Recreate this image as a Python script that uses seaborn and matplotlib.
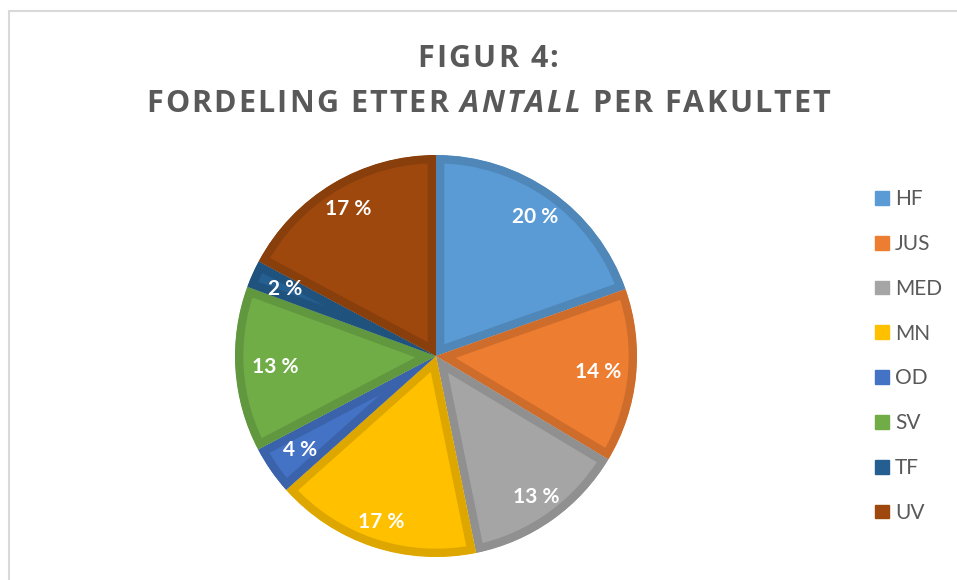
import matplotlib
matplotlib.use("Agg")
import numpy as np
import matplotlib.pyplot as plt
from matplotlib.patches import Patch, Rectangle
from matplotlib.font_manager import FontProperties, findfont, get_font
import seaborn as sns

# ==========================================
# DATA
# ==========================================
faculties = ["HF", "JUS", "MED", "MN", "OD", "SV", "TF", "UV"]
shares = [19.6, 14.0, 13.2, 16.6, 3.9, 13.3, 2.2, 17.2]
colors = ["#5B9BD5", "#ED7D31", "#A5A5A5", "#FFC000",
          "#4472C4", "#70AD47", "#255E91", "#9E480E"]
title_line1 = [("FIGUR 4:", "normal")]
title_line2 = [("FORDELING ETTER ", "normal"), ("ANTALL", "italic"), (" PER FAKULTET", "normal")]

sns.set_theme(style="white")
plt.rcParams["font.family"] = ["Lato", "DejaVu Sans"]
palette = sns.color_palette(colors)
edge_colors = [tuple(c * 0.87 for c in col) for col in palette]

W, H = 957, 580
fig = plt.figure(figsize=(W / 100, H / 100), dpi=100)
fig.patch.set_facecolor("white")

# light grey chart frame (Excel style)
fig.add_artist(Rectangle((9 / W, -0.05), 1.1, (H - 11) / H + 0.05,
                         transform=fig.transFigure, fill=False,
                         edgecolor="#D9D9D9", linewidth=1.5))

# ==========================================
# PIE
# ==========================================
R = 201
cx, cy = 436, 356
ax = fig.add_axes([(cx - R) / W, (H - cy - R) / H, 2 * R / W, 2 * R / H])
wedges, _, autotexts = ax.pie(
    shares, colors=palette, startangle=90, counterclock=False,
    autopct=lambda p: f"{p:.0f} %", pctdistance=0.83,
    wedgeprops=dict(linewidth=12, joinstyle="round"),
    textprops=dict(color="white", fontsize=15, fontweight="bold"),
)
# radial label distances, roughly like Excel's "best fit"
label_r = [0.85, 0.81, 0.86, 0.87, 0.82, 0.80, 0.82, 0.85]
for w, ec, t, r in zip(wedges, edge_colors, autotexts, label_r):
    w.set_edgecolor(ec)
    w.set_clip_on(True)
    w.set_clip_path(w)  # keep the stroke on the inside of each slice
    mid = np.deg2rad((w.theta1 + w.theta2) / 2)
    t.set_position((r * np.cos(mid), r * np.sin(mid)))
ax.set_xlim(-1, 1)
ax.set_ylim(-1, 1)
ax.set_aspect("equal")
ax.axis("off")

# ==========================================
# TITLE (letter-spaced like the Excel chart title)
# ==========================================
TSIZE = 22
TRACK = 2.1  # extra px between letters


def draw_tracked(parts, baseline_px, center_px):
    glyphs = []
    for s, st in parts:
        prop = FontProperties(family="Open Sans", weight="bold", style=st, size=TSIZE)
        font = get_font(findfont(prop))
        font.set_size(TSIZE, 100)
        for ch in s:
            adv = font.load_char(ord(ch)).linearHoriAdvance / 65536
            glyphs.append((ch, st, adv))
    total = sum(a for _, _, a in glyphs) + TRACK * (len(glyphs) - 1)
    x = center_px - total / 2
    for ch, st, adv in glyphs:
        if ch != " ":
            fig.text(x / W, 1 - baseline_px / H, ch, ha="left", va="baseline",
                     fontsize=TSIZE, fontweight="bold", style=st,
                     color="#595959", family=["Open Sans", "DejaVu Sans"])
        x += adv + TRACK


draw_tracked(title_line1, 67, 488)
draw_tracked(title_line2, 112, 488)

# ==========================================
# LEGEND
# ==========================================
handles = [Patch(facecolor=c, edgecolor=c) for c in palette]
leg = fig.legend(handles, faculties, loc="center left",
                 bbox_to_anchor=(875 / W, 1 - 356 / H),
                 frameon=False, fontsize=15, labelspacing=1.19,
                 borderpad=0, borderaxespad=0,
                 handlelength=0.65, handleheight=0.65, handletextpad=0.3)
for txt in leg.get_texts():
    txt.set_color("#595959")

plt.savefig("out.png", dpi=100)
